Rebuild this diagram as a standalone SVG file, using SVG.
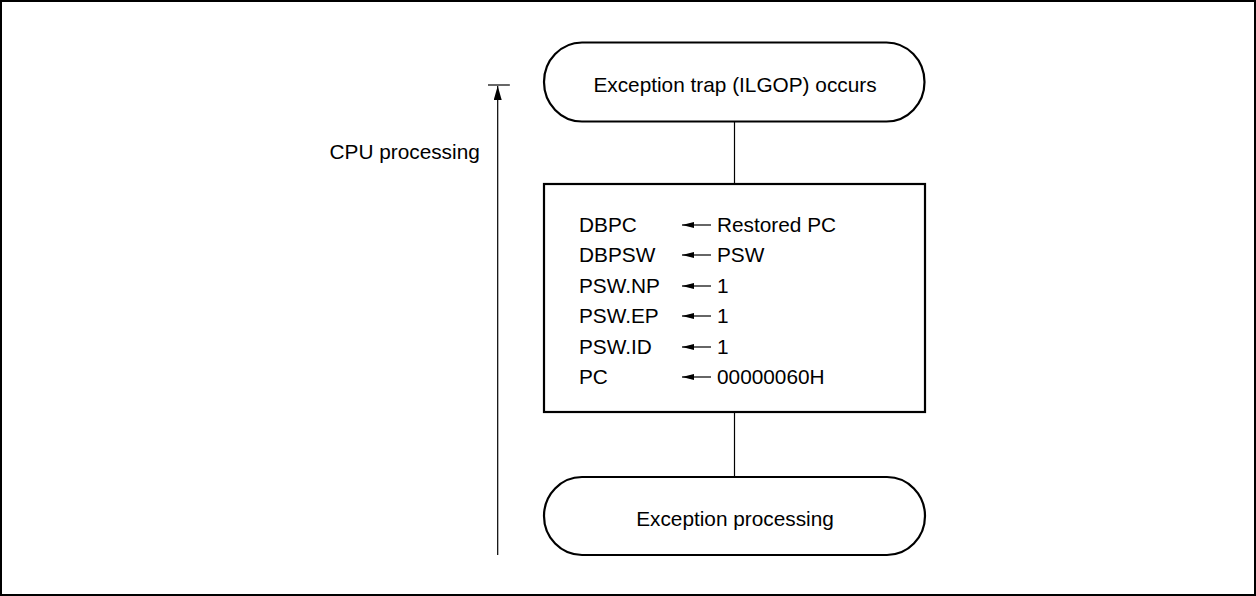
<svg xmlns="http://www.w3.org/2000/svg" width="1256" height="596" viewBox="0 0 1256 596">
<style>
text{font-family:"Liberation Sans",Arial,sans-serif;font-size:20.8px;fill:#000}
.shape{fill:#fff;stroke:#000;stroke-width:2.2}
.thin{fill:none;stroke:#000;stroke-width:1.2}
.mid{text-anchor:middle}
</style>
<defs>
<marker id="ah" viewBox="0 0 12 6" refX="12" refY="3" markerWidth="12" markerHeight="6" markerUnits="userSpaceOnUse" orient="auto">
<path d="M12,3 L0,0 L0,6 Z" fill="#000"/>
</marker>
<marker id="up" viewBox="0 0 8 14" refX="4" refY="0" markerWidth="8" markerHeight="14" markerUnits="userSpaceOnUse" orient="0">
<path d="M4,0 L0,14 L8,14 Z" fill="#000"/>
</marker>
</defs>
<rect x="1" y="1" width="1254" height="594" fill="#fff" stroke="#000" stroke-width="2"/>
<g id="connectors">
<line class="thin" x1="734.5" y1="122" x2="734.5" y2="184"/>
<line class="thin" x1="734.5" y1="412" x2="734.5" y2="477"/>
</g>
<g id="cpu-processing">
<line class="thin" x1="488" y1="85" x2="510" y2="85"/>
<line class="thin" x1="497.7" y1="555" x2="497.7" y2="86" marker-end="url(#up)"/>
<text x="329.5" y="159">CPU processing</text>
</g>
<g id="start">
<rect class="shape" x="544" y="42.5" width="380.5" height="79" rx="38" ry="39.5"/>
<text class="mid" x="735" y="92">Exception trap (ILGOP) occurs</text>
</g>
<g id="process">
<rect class="shape" x="544" y="184" width="381" height="228"/>
<g id="rows">
<text x="579" y="232">DBPC</text>
<text x="579" y="262">DBPSW</text>
<text x="579" y="293">PSW.NP</text>
<text x="579" y="323">PSW.EP</text>
<text x="579" y="354">PSW.ID</text>
<text x="579" y="384">PC</text>
<g class="thin">
<line x1="711" y1="225" x2="682" y2="225" marker-end="url(#ah)"/>
<line x1="711" y1="255" x2="682" y2="255" marker-end="url(#ah)"/>
<line x1="711" y1="286" x2="682" y2="286" marker-end="url(#ah)"/>
<line x1="711" y1="316" x2="682" y2="316" marker-end="url(#ah)"/>
<line x1="711" y1="347" x2="682" y2="347" marker-end="url(#ah)"/>
<line x1="711" y1="377" x2="682" y2="377" marker-end="url(#ah)"/>
</g>
<text x="717" y="232">Restored PC</text>
<text x="717" y="262">PSW</text>
<text x="717" y="293">1</text>
<text x="717" y="323">1</text>
<text x="717" y="354">1</text>
<text x="717" y="384">00000060H</text>
</g>
</g>
<g id="end">
<rect class="shape" x="544" y="477" width="381" height="78" rx="38" ry="39"/>
<text class="mid" x="735" y="526">Exception processing</text>
</g>
</svg>
